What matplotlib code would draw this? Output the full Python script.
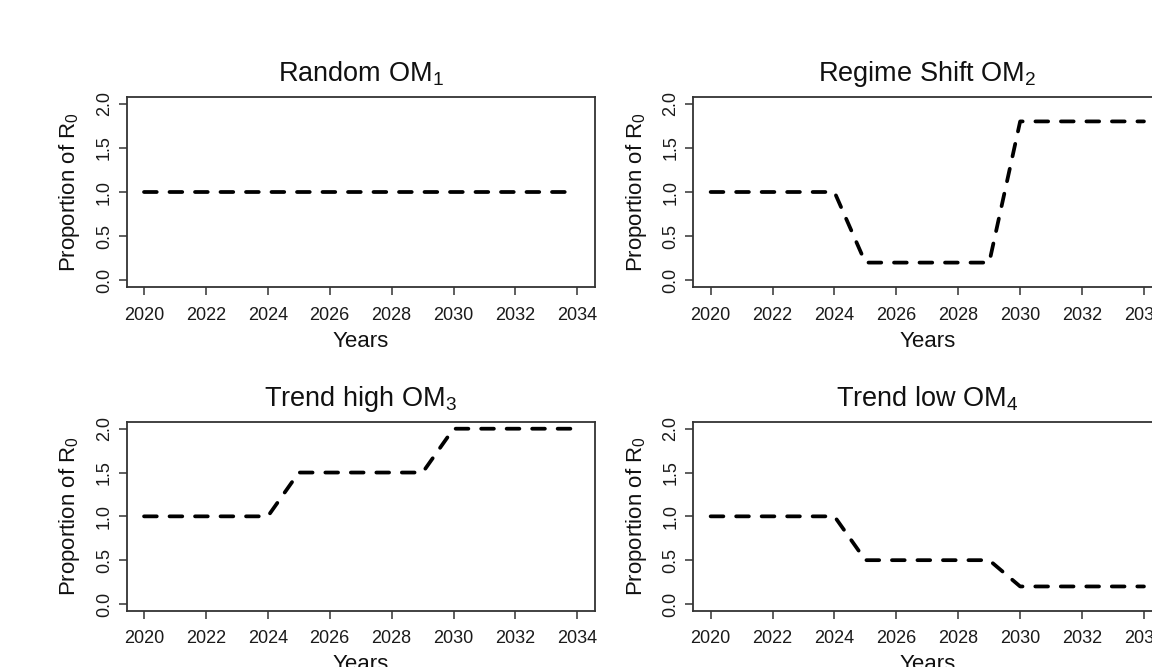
import matplotlib
matplotlib.use("Agg")
import matplotlib.pyplot as plt

plt.rcParams['font.family'] = ['Liberation Sans', 'DejaVu Sans']
plt.rcParams['mathtext.fontset'] = 'custom'
plt.rcParams['mathtext.rm'] = 'Liberation Sans'
plt.rcParams['mathtext.it'] = 'Liberation Sans:italic'

# ---- data ----
years = [2020, 2021, 2022, 2023, 2024, 2025, 2026, 2027, 2028, 2029,
         2030, 2031, 2032, 2033, 2034]
random_om1 = [1.0, 1.0, 1.0, 1.0, 1.0, 1.0, 1.0, 1.0, 1.0, 1.0,
              1.0, 1.0, 1.0, 1.0, 1.0]
regime_shift_om2 = [1.0, 1.0, 1.0, 1.0, 1.0, 0.2, 0.2, 0.2, 0.2, 0.2,
                    1.8, 1.8, 1.8, 1.8, 1.8]
trend_high_om3 = [1.0, 1.0, 1.0, 1.0, 1.0, 1.5, 1.5, 1.5, 1.5, 1.5,
                  2.0, 2.0, 2.0, 2.0, 2.0]
trend_low_om4 = [1.0, 1.0, 1.0, 1.0, 1.0, 0.5, 0.5, 0.5, 0.5, 0.5,
                 0.2, 0.2, 0.2, 0.2, 0.2]

titles = [r"Random OM$_\mathregular{1}$",
          r"Regime Shift OM$_\mathregular{2}$",
          r"Trend high OM$_\mathregular{3}$",
          r"Trend low OM$_\mathregular{4}$"]
series = [random_om1, regime_shift_om2, trend_high_om3, trend_low_om4]
xticks = [2020, 2022, 2024, 2026, 2028, 2030, 2032, 2034]
yticks = [0.0, 0.5, 1.0, 1.5, 2.0]
ytick_labels = ["0.0", "0.5", "1.0", "1.5", "2.0"]
xlabel = "Years"
ylabel = r"Proportion of R$_\mathregular{0}$"

W, H = 1152, 667
fig = plt.figure(figsize=(W / 100, H / 100), dpi=100)

# axes boxes in pixel coordinates (left, top, right, bottom)
boxes = [(126.7, 96.7, 594.7, 287.3),
         (693.3, 96.7, 1161.3, 287.3),
         (126.7, 421.7, 594.7, 611.0),
         (693.3, 421.7, 1161.3, 611.0)]

lw = 2.7
for (l, t, r, b), title, vals in zip(boxes, titles, series):
    ax = fig.add_axes([l / W, 1 - b / H, (r - l) / W, (b - t) / H])
    ax.plot(years, vals, color='black', lw=lw,
            linestyle=(0, (3.4, 3.4)), dash_capstyle='round',
            solid_capstyle='round', clip_on=False)
    ax.set_xlim(2020 - 0.56, 2034 + 0.56)
    ax.set_ylim(-0.08, 2.08)
    ax.set_xticks(xticks)
    ax.set_xticklabels([str(x) for x in xticks])
    ax.set_yticks(yticks)
    ax.set_yticklabels(ytick_labels, rotation=90, va='center')
    ax.tick_params(axis='both', direction='out', length=6, width=1.1,
                   color='#333333', labelsize=13, labelcolor='#1a1a1a')
    ax.tick_params(axis='x', pad=8)
    ax.tick_params(axis='y', pad=4)
    for s in ax.spines.values():
        s.set_linewidth(1.3)
        s.set_color('#333333')
    ax.set_title(title, fontsize=19.5, pad=11, color='#111111')
    ax.set_xlabel(xlabel, fontsize=16, labelpad=5, color='#111111')
    ax.set_ylabel(ylabel, fontsize=16, labelpad=10, color='#111111')

fig.savefig("out.png", dpi=100, facecolor='white')
